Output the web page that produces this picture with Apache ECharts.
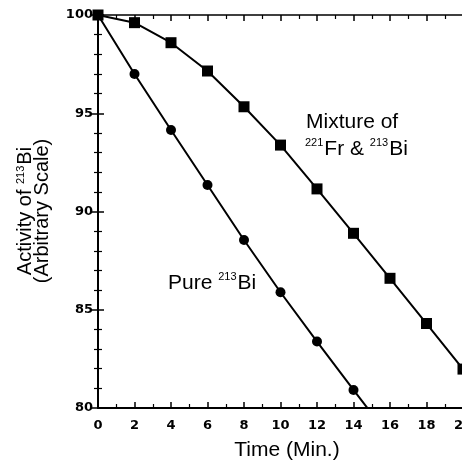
<!DOCTYPE html>
<html>
<head>
<meta charset="utf-8">
<script src="https://cdn.jsdelivr.net/npm/echarts@6/dist/echarts.min.js"></script>
<style>
html,body{margin:0;padding:0;background:#fff;}
#chart{width:462px;height:461px;}
</style>
</head>
<body>
<div id="chart"></div>
<script>
// Data
const pureTime = [0, 2, 4, 6, 8, 10, 12, 14, 16];
const pureBi = [100, 97.0, 94.15, 91.35, 88.55, 85.89, 83.38, 80.92, 78.5];
const mixTime = [0, 2, 4, 6, 8, 10, 12, 14, 16, 18, 20];
const mixture = [100, 99.61, 98.59, 97.15, 95.33, 93.38, 91.15, 88.89, 86.6, 84.3, 81.98];
const xTicks = [0, 2, 4, 6, 8, 10, 12, 14, 16, 18, 20];
const yTicks = [80, 85, 90, 95, 100];

const TXT = 'Liberation Sans, Arial, Helvetica, sans-serif';
const NUM = 'DejaVu Sans, Arial, sans-serif';

const chart = echarts.init(document.getElementById('chart'), null, {renderer: 'canvas'});

function pairs(xs, ys) { return xs.map((x, i) => [x, ys[i]]); }

const lineAxis = {lineStyle: {color: '#000', width: 2}};
const richSup = {
  n: {fontFamily: TXT, fontSize: 21, color: '#000', lineHeight: 23, verticalAlign: 'bottom'},
  s: {fontFamily: TXT, fontSize: 11, color: '#000', lineHeight: 23, verticalAlign: 'top', padding: [1, 1, 0, 0]}
};
const richY = {
  n: {fontFamily: TXT, fontSize: 20, color: '#000', lineHeight: 17},
  s: {fontFamily: TXT, fontSize: 11, color: '#000', lineHeight: 17, padding: [0, 1, 9, 0]}
};

chart.setOption({
  animation: false,
  backgroundColor: '#fff',
  grid: {left: 98, top: 15, width: 365, height: 393, containLabel: false, outerBoundsMode: 'none'},
  xAxis: [{
    type: 'value', min: 0, max: 20, interval: 2, position: 'bottom',
    axisLine: lineAxis,
    axisTick: {show: true, inside: true, length: 6, lineStyle: {color: '#000', width: 1.5}},
    minorTick: {show: true, splitNumber: 2, length: 4, lineStyle: {color: '#000', width: 1.2}},
    splitLine: {show: false},
    axisLabel: {margin: 11, fontFamily: NUM, fontWeight: 'bold', fontSize: 13, color: '#000',
      formatter: v => xTicks.includes(v) ? String(v) : ''}
  }, {
    type: 'value', min: 0, max: 20, interval: 2, position: 'top',
    axisLine: {lineStyle: {color: '#000', width: 1.5}},
    axisTick: {show: true, inside: true, length: 6, lineStyle: {color: '#000', width: 1.5}},
    minorTick: {show: true, splitNumber: 2, length: 4, lineStyle: {color: '#000', width: 1.2}},
    splitLine: {show: false}, axisLabel: {show: false}
  }],
  yAxis: [{
    type: 'value', min: 80, max: 100, interval: 5, position: 'left',
    axisLine: lineAxis,
    axisTick: {show: true, inside: true, length: 6, lineStyle: {color: '#000', width: 1.5}},
    minorTick: {show: true, splitNumber: 5, length: 4, lineStyle: {color: '#000', width: 1.2}},
    splitLine: {show: false},
    axisLabel: {margin: 5, fontFamily: NUM, fontWeight: 'bold', fontSize: 13, color: '#000',
      formatter: v => yTicks.includes(v) ? String(v) : ''}
  }, {
    type: 'value', min: 80, max: 100, interval: 5, position: 'right',
    axisLine: {lineStyle: {color: '#000', width: 1.5}},
    axisTick: {show: true, inside: true, length: 6, lineStyle: {color: '#000', width: 1.5}},
    minorTick: {show: true, splitNumber: 5, length: 4, lineStyle: {color: '#000', width: 1.2}},
    splitLine: {show: false}, axisLabel: {show: false}
  }],
  series: [{
    name: 'Pure 213Bi', type: 'line', data: pairs(pureTime, pureBi),
    symbol: 'circle', symbolSize: 10, showAllSymbol: true, clip: true,
    lineStyle: {color: '#000', width: 2}, itemStyle: {color: '#000'}
  }, {
    name: 'Mixture', type: 'line', data: pairs(mixTime, mixture),
    symbol: 'rect', symbolSize: 11, showAllSymbol: true, clip: true,
    lineStyle: {color: '#000', width: 2}, itemStyle: {color: '#000'}
  }],
  graphic: [
    {type: 'text', x: 306, y: 122, style: {text: 'Mixture of', font: '21px ' + TXT, fill: '#000', align: 'left', verticalAlign: 'middle'}},
    {type: 'text', x: 305, y: 148, style: {text: '{s|221}{n|Fr & }{s|213}{n|Bi}', rich: richSup, align: 'left', verticalAlign: 'middle'}},
    {type: 'text', x: 168, y: 282, style: {text: '{n|Pure }{s|213}{n|Bi}', rich: richSup, align: 'left', verticalAlign: 'middle'}},
    {type: 'text', x: 287, y: 450, style: {text: 'Time (Min.)', font: '21px ' + TXT, fill: '#000', align: 'center', verticalAlign: 'middle'}},
    {type: 'text', x: 34, y: 211, rotation: Math.PI / 2,
      style: {text: '{n|Activity of }{s|213}{n|Bi}\n{n|(Arbitrary Scale)}', rich: richY, align: 'center', verticalAlign: 'middle'}}
  ]
});
</script>
</body>
</html>
